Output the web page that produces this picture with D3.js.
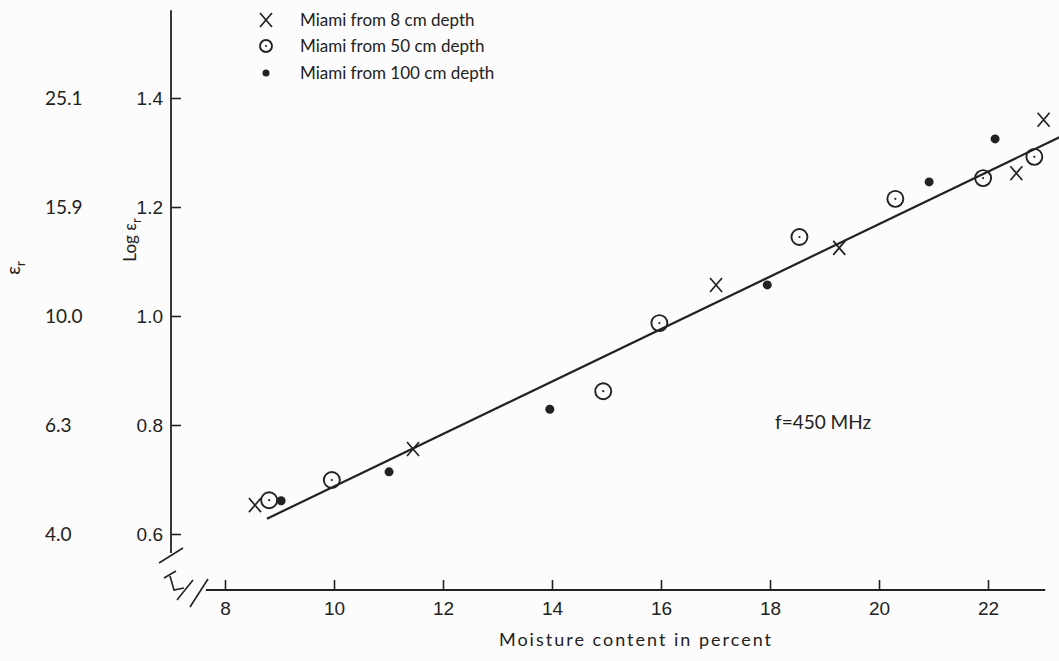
<!DOCTYPE html>
<html>
<head>
<meta charset="utf-8">
<script src="https://cdnjs.cloudflare.com/ajax/libs/d3/7.8.5/d3.min.js"></script>
<style>
  body { margin: 0; background: #fcfcfc; }
  svg { font-family: Lato, "Liberation Sans", sans-serif; }
</style>
</head>
<body>
<div id="chart"></div>
<script>
// Values: moisture content (%) and log of er
var depth8x = [8.55, 11.45, 17.01, 19.27, 22.52, 23.02];
var depth8y = [0.653, 0.756, 1.057, 1.125, 1.262, 1.360];
var depth50x = [8.81, 9.96, 14.94, 15.97, 18.54, 20.30, 21.91, 22.85];
var depth50y = [0.662, 0.699, 0.862, 0.987, 1.145, 1.215, 1.253, 1.292];
var depth100x = [9.03, 11.01, 13.96, 17.95, 20.92, 22.13];
var depth100y = [0.661, 0.714, 0.829, 1.057, 1.246, 1.325];

// fitted straight line (end points)
var fitX = [8.77, 23.31];
var fitY = [0.628, 1.328];

var xTicks = [8, 10, 12, 14, 16, 18, 20, 22];
var logTicks = [0.6, 0.8, 1.0, 1.2, 1.4];
var erLabels = ["4.0", "6.3", "10.0", "15.9", "25.1"];
var legendLabels = ["Miami from 8 cm depth", "Miami from 50 cm depth", "Miami from 100 cm depth"];

var svgWidth = 1059;
var svgHeight = 661;
var ink = "#222";

var svg = d3.select("#chart")
    .append("svg")
    .attr("width", svgWidth)
    .attr("height", svgHeight);

var xScale = d3.scaleLinear().domain([8, 22]).range([225, 988]);
var yScale = d3.scaleLinear().domain([0.6, 1.4]).range([534, 98]);

var axisX = 171;   // position of the vertical axis
var axisY = 590;   // position of the horizontal axis

// vertical axis, ticks pointing inwards
var leftAxis = d3.axisLeft(yScale)
    .tickValues(logTicks)
    .tickFormat(d3.format(".1f"))
    .tickSizeInner(-10)
    .tickSizeOuter(0)
    .tickPadding(8);

var yAxisG = svg.append("g")
    .attr("transform", "translate(" + axisX + ",0)")
    .call(leftAxis);
yAxisG.select(".domain").remove();
yAxisG.selectAll("line").attr("stroke", ink).attr("stroke-width", 1.6);
yAxisG.selectAll("text").attr("fill", ink).style("font-size", "19px");

svg.append("line")
    .attr("x1", axisX).attr("x2", axisX)
    .attr("y1", yScale(1.561)).attr("y2", yScale(0.565))
    .attr("stroke", ink).attr("stroke-width", 1.8);

// er column
svg.selectAll(".er")
    .data(logTicks)
    .enter().append("text")
    .attr("x", 45)
    .attr("y", d => yScale(d))
    .attr("dy", "0.35em")
    .attr("fill", ink)
    .style("font-size", "19px")
    .text((d, i) => erLabels[i]);

// horizontal axis, ticks pointing up
var bottomAxis = d3.axisBottom(xScale)
    .tickValues(xTicks)
    .tickSizeInner(-10)
    .tickSizeOuter(0)
    .tickPadding(12);

var xAxisG = svg.append("g")
    .attr("transform", "translate(0," + axisY + ")")
    .call(bottomAxis);
xAxisG.select(".domain").remove();
xAxisG.selectAll("line").attr("stroke", ink).attr("stroke-width", 1.6);
xAxisG.selectAll("text").attr("fill", ink).style("font-size", "19px");

svg.append("line")
    .attr("x1", xScale(7.65)).attr("x2", xScale(23.05))
    .attr("y1", axisY).attr("y2", axisY)
    .attr("stroke", ink).attr("stroke-width", 1.8);

// axis break marks
var brk = svg.append("g").attr("stroke", ink).attr("stroke-width", 1.6).attr("fill", "none");
brk.append("path").attr("d", "M159,563L183,548");
brk.append("path").attr("d", "M164,578L176,571M170,576L174,590L184,588");
brk.append("path").attr("d", "M177,600L193,580");
brk.append("path").attr("d", "M190,607L208,579");

// axis titles
svg.append("text")
    .attr("x", 636).attr("y", 646)
    .attr("text-anchor", "middle")
    .attr("fill", ink)
    .style("font-size", "18px")
    .style("letter-spacing", "2px")
    .text("Moisture content in percent");

var logLabel = svg.append("text")
    .attr("transform", "translate(136,240) rotate(-90)")
    .attr("text-anchor", "middle")
    .attr("fill", ink)
    .style("font-size", "17px");
logLabel.append("tspan").text("Log \u03b5");
logLabel.append("tspan").attr("dy", 5).style("font-size", "13px").text("r");

var erLabel = svg.append("text")
    .attr("transform", "translate(20,268) rotate(-90)")
    .attr("text-anchor", "middle")
    .attr("fill", ink)
    .style("font-size", "19px");
erLabel.append("tspan").text("\u03b5");
erLabel.append("tspan").attr("dy", 5).style("font-size", "14px").text("r");

// fitted line
var line = d3.line()
    .x(d => xScale(d[0]))
    .y(d => yScale(d[1]));

svg.append("path")
    .datum(d3.zip(fitX, fitY))
    .attr("d", line)
    .attr("fill", "none")
    .attr("stroke", ink)
    .attr("stroke-width", 2.2);

// marker drawing helpers
function drawCross(g) {
    g.append("path")
        .attr("d", "M-6,-7L6,7M6,-7L-6,7")
        .attr("stroke", ink)
        .attr("stroke-width", 1.7)
        .attr("fill", "none");
}
function drawRing(g, r) {
    g.append("circle").attr("r", r).attr("fill", "none").attr("stroke", ink).attr("stroke-width", 1.9);
    g.append("circle").attr("r", 1.1).attr("fill", ink);
}
function drawDot(g) {
    g.append("circle").attr("r", 4.5).attr("fill", ink);
}

svg.selectAll(".d8")
    .data(d3.zip(depth8x, depth8y))
    .enter().append("g")
    .attr("transform", d => "translate(" + xScale(d[0]) + "," + yScale(d[1]) + ")")
    .each(function() { drawCross(d3.select(this)); });

svg.selectAll(".d50")
    .data(d3.zip(depth50x, depth50y))
    .enter().append("g")
    .attr("transform", d => "translate(" + xScale(d[0]) + "," + yScale(d[1]) + ")")
    .each(function() { drawRing(d3.select(this), 8); });

svg.selectAll(".d100")
    .data(d3.zip(depth100x, depth100y))
    .enter().append("g")
    .attr("transform", d => "translate(" + xScale(d[0]) + "," + yScale(d[1]) + ")")
    .each(function() { drawDot(d3.select(this)); });

// legend
var legendRows = [20, 46, 73];
legendLabels.forEach(function(label, i) {
    var row = svg.append("g").attr("transform", "translate(266," + legendRows[i] + ")");
    if (i === 0) drawCross(row);
    if (i === 1) drawRing(row, 6);
    if (i === 2) row.append("circle").attr("r", 3.5).attr("fill", ink);
    row.append("text")
        .attr("x", 34)
        .attr("dy", "0.35em")
        .attr("fill", ink)
        .style("font-size", "17px")
        .text(label);
});

// frequency note
svg.append("text")
    .attr("x", 775).attr("y", 422)
    .attr("dy", "0.35em")
    .attr("fill", ink)
    .style("font-size", "19px")
    .text("f=450  MHz");
</script>
</body>
</html>
